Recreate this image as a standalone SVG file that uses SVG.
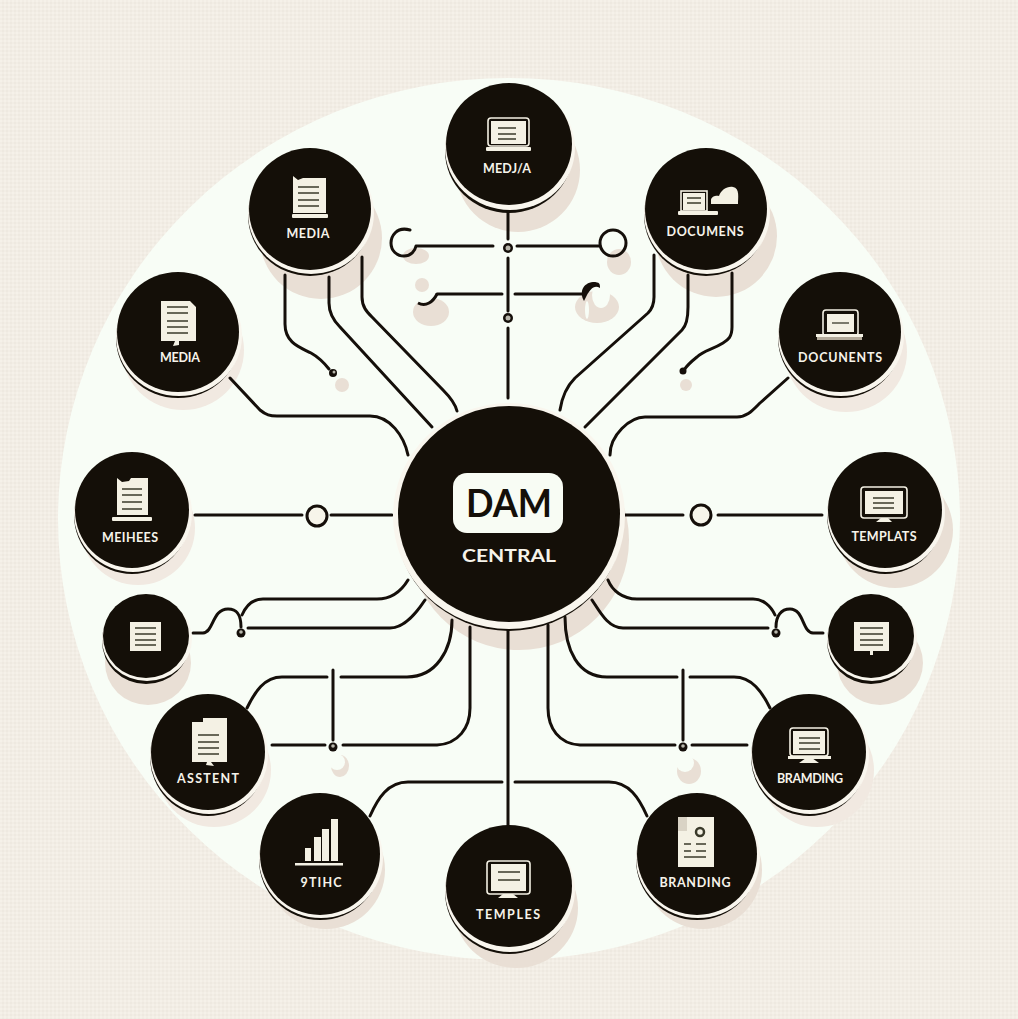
<svg xmlns="http://www.w3.org/2000/svg" width="1018" height="1019" viewBox="0 0 1018 1019">
<style>
.sh{fill:#e9dfd5}
.shf{fill:#f1e9e1}
.k{fill:#140f08}
.rim{fill:#f9f6ee}
.lbl{font-family:"Lato","Open Sans",sans-serif;font-weight:700;font-size:12.5px;fill:#f6f3ea;text-anchor:middle}
.ln{fill:none;stroke:#150f0a;stroke-width:3;stroke-linecap:round;stroke-linejoin:round}
.ic{fill:#f4f1e4}
.il{fill:none;stroke:#3a3a2a;stroke-width:1.3}
.iw{fill:none;stroke:#f4f1e4;stroke-width:1.6}
.dot{fill:#150f0a}
.pup{fill:#b9b7ac}
.bg{fill:#f8fdf6}
</style>
<defs>
<pattern id="tex" width="4" height="4" patternUnits="userSpaceOnUse">
<rect width="4" height="4" fill="#f2ede5"/>
<circle cx="1" cy="1" r="0.8" fill="#f9f6f0"/>
<circle cx="3" cy="3" r="0.7" fill="#e9e3d9"/>
</pattern>
</defs>
<rect width="1018" height="1019" fill="url(#tex)"/>
<ellipse id="disc" cx="509" cy="519" rx="451" ry="441" class="bg"/>

<g id="shadows">
<ellipse class="sh" cx="518" cy="170" rx="62" ry="62"/>
<ellipse class="sh" cx="321" cy="238" rx="61" ry="61"/>
<ellipse class="sh" cx="716" cy="236" rx="61" ry="61"/>
<ellipse class="shf" cx="846" cy="352" rx="61" ry="60"/>
<ellipse class="shf" cx="183" cy="350" rx="61" ry="60"/>
<ellipse class="shf" cx="138" cy="528" rx="57" ry="57"/>
<ellipse class="sh" cx="895" cy="530" rx="58" ry="58"/>
<ellipse class="sh" cx="148" cy="663" rx="43" ry="42"/>
<ellipse class="sh" cx="880" cy="663" rx="43" ry="42"/>
<ellipse class="shf" cx="214" cy="770" rx="57" ry="57"/>
<ellipse class="shf" cx="817" cy="770" rx="57" ry="57"/>
<ellipse class="sh" cx="326" cy="870" rx="59" ry="59"/>
<ellipse class="sh" cx="703" cy="870" rx="59" ry="59"/>
<ellipse class="sh" cx="516" cy="908" rx="62" ry="60"/>
<ellipse class="sh" cx="519" cy="540" rx="110" ry="110"/>
<ellipse class="sh" cx="431" cy="312" rx="18" ry="14"/>
<circle class="bg" cx="423" cy="288" r="15"/>
<ellipse class="sh" cx="422" cy="285" rx="7" ry="7"/>
<ellipse class="sh" cx="597" cy="307" rx="22" ry="16"/>
<ellipse class="bg" cx="601" cy="295" rx="9" ry="13"/>
<ellipse class="bg" cx="587" cy="310" rx="2" ry="9"/>
<ellipse class="sh" cx="416" cy="256" rx="13" ry="8"/>
<ellipse class="sh" cx="619" cy="262" rx="12" ry="13"/>
<ellipse class="sh" cx="342" cy="385" rx="7" ry="7"/>
<ellipse class="sh" cx="686" cy="385" rx="6" ry="6"/>
<ellipse class="sh" cx="340" cy="766" rx="9" ry="11"/>
<ellipse class="sh" cx="689" cy="771" rx="12" ry="13"/>
<circle class="bg" cx="685" cy="763" r="9"/>
<circle class="bg" cx="337" cy="762" r="8"/>
</g>

<g id="connectors">
<path class="ln" d="M508 205V239"/>
<path class="ln" d="M508 258V311"/>
<path class="ln" d="M508 328V398"/>
<path class="ln" d="M410 230C396 226 391 237 391 243C391 251 397 256 404 256C411 256 415 251 416 246H493"/>
<path class="ln" d="M517 246H600"/>
<circle cx="613" cy="243" r="13" fill="none" stroke="#150f0a" stroke-width="3"/>
<path class="ln" d="M437 294H502"/>
<path class="ln" d="M515 294H582"/>
<path d="M418 303C426 307 433 302 437 294" fill="none" stroke="#150f0a" stroke-width="3"/>
<path d="M584 301C579 292 583 283 593 282C600 282 600 284 600 288C594 284 590 290 587 295Z" fill="#150f0a"/>
<circle cx="508" cy="248" r="5" class="dot"/><circle cx="508" cy="248" r="2.5" class="pup"/>
<circle cx="508" cy="318" r="5" class="dot"/><circle cx="508" cy="318" r="2.5" class="pup"/>

<path class="ln" d="M285 275V324C285 344 302 348 311 353C320 358 325 364 329 369"/>
<circle cx="333" cy="373" r="4" class="dot"/><circle cx="334" cy="372" r="1.5" class="pup"/>
<path class="ln" d="M329 277V303C329 315 335 322 340 327L432 427"/>
<path class="ln" d="M362 257V297C362 307 367 312 372 317L443 390C450 397 455 403 457 411"/>
<path class="ln" d="M654 255V297C654 305 651 310 648 313L575 378C567 386 562 397 560 410"/>
<path class="ln" d="M688 275V307C688 318 686 326 682 330L585 427"/>
<path class="ln" d="M732 273V327C732 337 728 340 723 343C712 350 704 350 697 357C692 361 688 364 684 370"/>
<circle cx="683" cy="371" r="3.5" class="dot"/>
<path class="ln" d="M788 378L760 403C752 411 747 417 737 417H645C630 417 610 435 610 455"/>
<path class="ln" d="M230 378L260 410C266 415 270 416 277 416H370C390 416 404 436 408 455"/>
<path class="ln" d="M195 515H302"/>
<circle cx="317" cy="516" r="10" fill="#f7f5ea" stroke="#150f0a" stroke-width="3"/>
<path class="ln" d="M331 515H392"/>
<path class="ln" d="M625 515H683"/>
<circle cx="701" cy="515" r="10" fill="#f7f5ea" stroke="#150f0a" stroke-width="3"/>
<path class="ln" d="M718 515H822"/>

<path class="ln" d="M193 633H203C214 632 212 609 228 609C238 609 241 616 241 627"/>
<path class="ln" d="M242 615C246 606 253 599 263 599H377C392 599 402 590 408 580"/>
<path class="ln" d="M248 628H390C405 628 417 612 425 600"/>
<circle cx="241" cy="633" r="4.5" class="dot"/><circle cx="241" cy="632" r="1.8" class="pup"/>
<path class="ln" d="M247 708C255 692 264 677 282 677H327"/>
<path class="ln" d="M341 677H407C436 677 452 650 452 620"/>
<path class="ln" d="M333 670V740"/>
<circle cx="333" cy="747" r="4.5" class="dot"/><circle cx="333" cy="746" r="1.8" class="pup"/>
<path class="ln" d="M272 745H325"/>
<path class="ln" d="M343 745H437C458 744 470 728 470 708V627"/>
<path class="ln" d="M370 816C378 798 388 782 408 782H502"/>
<path class="ln" d="M508 622V826"/>

<path class="ln" d="M823 633H813C802 632 804 609 790 609C781 609 776 616 776 627"/>
<path class="ln" d="M775 615C771 606 763 599 753 599H637C622 599 612 590 608 580"/>
<path class="ln" d="M768 628H623C608 628 600 612 592 600"/>
<circle cx="776" cy="633" r="4.5" class="dot"/><circle cx="776" cy="632" r="1.8" class="pup"/>
<path class="ln" d="M770 708C762 692 752 677 734 677H690"/>
<path class="ln" d="M677 677H607C578 677 565 650 565 617"/>
<path class="ln" d="M683 670V740"/>
<circle cx="683" cy="747" r="4.5" class="dot"/><circle cx="683" cy="746" r="1.8" class="pup"/>
<path class="ln" d="M747 745H692"/>
<path class="ln" d="M675 745H580C559 744 548 728 548 708V625"/>
<path class="ln" d="M647 816C639 798 629 782 609 782H515"/>
</g>

<g id="node-top-media">
<ellipse class="k" cx="509" cy="151" rx="64" ry="62"/><ellipse class="rim" cx="510" cy="148" rx="65" ry="62"/><ellipse class="k" cx="509" cy="144" rx="63" ry="61"/>
<rect class="iw" x="488" y="118" width="41" height="28" rx="3"/><rect class="ic" x="491" y="121" width="35" height="23"/>
<path class="il" d="M498 128H516M498 134H516M498 139H516"/><rect class="ic" x="486" y="147" width="45" height="4" rx="1"/>
<text class="lbl" x="507" y="173" textLength="48">MEDJ/A</text>
</g>
<g id="node-media-upper">
<ellipse class="k" cx="310" cy="215" rx="62" ry="61"/><ellipse class="rim" cx="311" cy="213" rx="63" ry="61"/><ellipse class="k" cx="310" cy="209" rx="61" ry="61"/>
<path class="ic" d="M293 176L298 180L303 178H326V213H293Z"/><path class="il" d="M298 187H319M298 193H319M298 200H319M298 206H319"/><rect class="ic" x="292" y="214" width="36" height="4" rx="1"/>
<text class="lbl" x="308" y="238" textLength="43">MEDIA</text>
</g>
<g id="node-documens">
<ellipse class="k" cx="706" cy="215" rx="62" ry="61"/><ellipse class="rim" cx="707" cy="213" rx="63" ry="61"/><ellipse class="k" cx="706" cy="209" rx="61" ry="61"/>
<rect class="iw" x="681" y="191" width="26" height="20"/><rect class="ic" x="683" y="193" width="22" height="17"/><path class="il" d="M687 198H701M687 203H701"/><rect class="ic" x="678" y="211" width="40" height="4" rx="1"/>
<path class="ic" d="M711 204V200C711 196 717 195 719 196C721 190 727 186 733 187C740 188 738 198 738 204Z"/>
<text class="lbl" x="705" y="236" textLength="77">DOCUMENS</text>
</g>
<g id="node-docunents">
<ellipse class="k" cx="840" cy="338" rx="62" ry="60"/><ellipse class="rim" cx="841" cy="336" rx="63" ry="60"/><ellipse class="k" cx="840" cy="332" rx="61" ry="60"/>
<rect class="iw" x="823" y="310" width="35" height="26" rx="3"/><rect class="ic" x="827" y="314" width="27" height="18"/><path class="il" d="M832 323H849"/><rect class="ic" x="816" y="334" width="47" height="3"/><rect x="817" y="337" width="45" height="3" fill="#b3aa9a"/>
<text class="lbl" x="840" y="362" textLength="84">DOCUNENTS</text>
</g>
<g id="node-media-left">
<ellipse class="k" cx="178" cy="338" rx="62" ry="60"/><ellipse class="rim" cx="179" cy="336" rx="63" ry="60"/><ellipse class="k" cx="178" cy="332" rx="61" ry="60"/>
<path class="ic" d="M161 301H190L196 307V341H179V345L173 346L175 341H161Z"/><path class="il" d="M167 307H188M167 313H188M167 321H188M167 327H188M167 333H188"/>
<text class="lbl" x="180" y="362" textLength="40">MEDIA</text>
</g>
<g id="node-meihees">
<ellipse class="k" cx="132" cy="515" rx="58" ry="59"/><ellipse class="rim" cx="133" cy="513" rx="59" ry="59"/><ellipse class="k" cx="132" cy="510" rx="57" ry="58"/>
<path class="ic" d="M117 478L122 482L129 481L131 478H148V515H117Z"/><path class="il" d="M122 489H142M122 495H142M122 502H142M122 509H142"/><rect class="ic" x="112" y="517" width="40" height="4" rx="1"/>
<text class="lbl" x="130" y="542" textLength="56">MEIHEES</text>
</g>
<g id="node-templats">
<ellipse class="k" cx="885" cy="515" rx="58" ry="59"/><ellipse class="rim" cx="886" cy="513" rx="59" ry="59"/><ellipse class="k" cx="885" cy="510" rx="57" ry="58"/>
<rect class="iw" x="861" y="487" width="46" height="31" rx="3"/><rect class="ic" x="865" y="491" width="38" height="23"/><path class="il" d="M873 498H894M873 503H894M873 508H894"/><path class="ic" d="M876 522L881 518H888L892 522Z"/>
<text class="lbl" x="884" y="541" textLength="65">TEMPLATS</text>
</g>
<g id="node-small-left">
<ellipse class="k" cx="146" cy="641" rx="44" ry="43"/><ellipse class="rim" cx="147" cy="639" rx="45" ry="42"/><ellipse class="k" cx="146" cy="636" rx="43" ry="42"/>
<rect class="ic" x="130" y="622" width="31" height="29"/><path class="il" d="M135 628H156M135 634H156M135 640H156M135 645H156"/>
</g>
<g id="node-small-right">
<ellipse class="k" cx="871" cy="641" rx="44" ry="43"/><ellipse class="rim" cx="872" cy="639" rx="45" ry="42"/><ellipse class="k" cx="871" cy="636" rx="43" ry="42"/>
<rect class="ic" x="854" y="622" width="35" height="29"/><rect class="ic" x="870" y="651" width="3" height="4"/><path class="il" d="M860 628H883M860 634H883M860 640H883M860 645H883"/>
</g>
<g id="node-asstent">
<ellipse class="k" cx="208" cy="757" rx="58" ry="59"/><ellipse class="rim" cx="209" cy="755" rx="59" ry="59"/><ellipse class="k" cx="208" cy="752" rx="57" ry="58"/>
<path class="ic" d="M192 722H203V718H227V762H211L214 766L206 765L207 762H192Z"/><path class="il" d="M198 735H219M198 742H219M198 748H219M198 754H219"/>
<text class="lbl" x="208" y="783" textLength="62">ASSTENT</text>
</g>
<g id="node-bramding">
<ellipse class="k" cx="809" cy="757" rx="58" ry="59"/><ellipse class="rim" cx="810" cy="755" rx="59" ry="59"/><ellipse class="k" cx="809" cy="752" rx="57" ry="58"/>
<rect class="iw" x="790" y="728" width="38" height="28" rx="3"/><rect class="ic" x="793" y="731" width="32" height="23"/><path class="il" d="M799 738H820M799 743H820M799 749H820"/><rect class="ic" x="788" y="756" width="43" height="3"/><path class="ic" d="M799 763L806 758H812L819 763Z"/>
<text class="lbl" x="810" y="783" textLength="66">BRAMDING</text>
</g>
<g id="node-graphic">
<ellipse class="k" cx="320" cy="860" rx="61" ry="60"/><ellipse class="rim" cx="321" cy="858" rx="62" ry="60"/><ellipse class="k" cx="320" cy="854" rx="60" ry="61"/>
<rect class="ic" x="305" y="848" width="6" height="13"/><rect class="ic" x="314" y="837" width="7" height="24"/><rect class="ic" x="322" y="829" width="7" height="32"/><rect class="ic" x="331" y="819" width="7" height="42"/><rect class="ic" x="295" y="863" width="48" height="2.5"/>
<text class="lbl" x="321" y="887" textLength="41">9TIHC</text>
</g>
<g id="node-branding">
<ellipse class="k" cx="697" cy="860" rx="61" ry="60"/><ellipse class="rim" cx="698" cy="858" rx="62" ry="60"/><ellipse class="k" cx="697" cy="854" rx="60" ry="61"/>
<path class="ic" d="M678 817H714V867H678Z"/><path d="M678 817H687V831H678Z" fill="#d9d3c5"/><circle cx="700" cy="832" r="4" fill="none" stroke="#3a3a2a" stroke-width="2.5"/><path class="il" d="M684 844H691M696 844H706M684 851H691M696 851H706M684 857H706"/>
<text class="lbl" x="695" y="887" textLength="71">BRANDING</text>
</g>
<g id="node-temples">
<ellipse class="k" cx="509" cy="892" rx="64" ry="62"/><ellipse class="rim" cx="510" cy="890" rx="65" ry="62"/><ellipse class="k" cx="509" cy="886" rx="63" ry="61"/>
<rect class="iw" x="487" y="861" width="43" height="33" rx="3"/><rect class="ic" x="491" y="864" width="35" height="27"/><path class="il" d="M498 872H520M498 880H520"/><path class="ic" d="M498 898L503 894H513L518 898Z"/>
<text class="lbl" x="508" y="919" textLength="64">TEMPLES</text>
</g>
<g id="node-central">
<ellipse class="k" cx="509" cy="519" rx="114" ry="112"/><ellipse class="rim" cx="509" cy="516" rx="116" ry="113"/><ellipse class="k" cx="509" cy="514" rx="111" ry="108"/>
<rect x="453" y="473" width="110" height="60" rx="14" fill="#f8fcf4"/>
<text x="509" y="517" text-anchor="middle" font-family="Lato,&quot;Open Sans&quot;,sans-serif" font-weight="700" font-size="38" fill="#140f08" textLength="86" lengthAdjust="spacingAndGlyphs">DAM</text>
<text x="509" y="562" text-anchor="middle" font-family="Lato,&quot;Open Sans&quot;,sans-serif" font-weight="700" font-size="16.5" fill="#f6f3ea" textLength="94" lengthAdjust="spacingAndGlyphs">CENTRAL</text>
</g>
</svg>
